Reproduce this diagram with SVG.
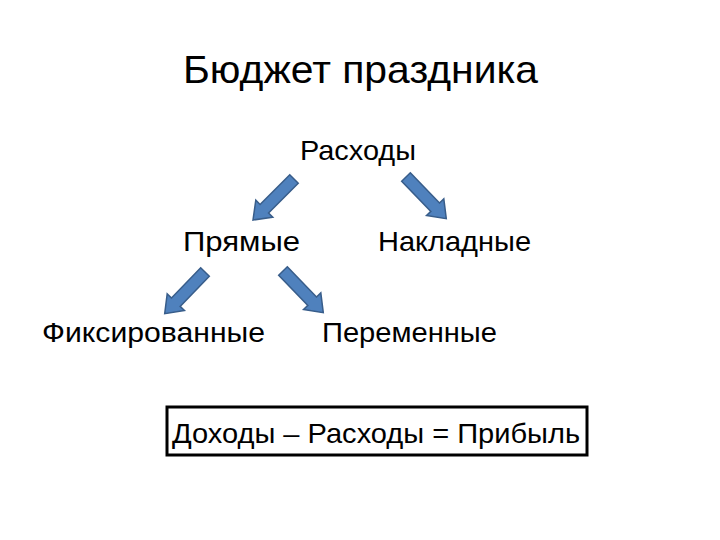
<svg xmlns="http://www.w3.org/2000/svg" xmlns:xlink="http://www.w3.org/1999/xlink" width="720" height="540" viewBox="0 0 720 540">
<style>
text{font-family:"Liberation Sans","DejaVu Sans",sans-serif;fill:#000}
.t{font-size:39px}
.n{font-size:28px}
.arr{fill:#4F81BD;stroke:#385D8A;stroke-width:1.5}
</style>
<defs>
<path id="ba" d="M0,-6 L42,-6 L42,-12 L58,0 L42,12 L42,6 L0,6 Z"/>
</defs>
<rect width="720" height="540" fill="#fff"/>
<g id="title"><text class="t" x="183" y="83" textLength="355" lengthAdjust="spacingAndGlyphs">Бюджет праздника</text></g>
<g id="rashody"><text class="n" x="300" y="160" textLength="116" lengthAdjust="spacingAndGlyphs">Расходы</text></g>
<g id="pryamye"><text class="n" x="183" y="251" textLength="117" lengthAdjust="spacingAndGlyphs">Прямые</text></g>
<g id="nakladnye"><text class="n" x="378" y="251" textLength="153" lengthAdjust="spacingAndGlyphs">Накладные</text></g>
<g id="fiks"><text class="n" x="42" y="342" textLength="223" lengthAdjust="spacingAndGlyphs">Фиксированные</text></g>
<g id="perem"><text class="n" x="322" y="342" textLength="175" lengthAdjust="spacingAndGlyphs">Переменные</text></g>
<g id="formula">
<rect x="167" y="407" width="420" height="48" fill="none" stroke="#000" stroke-width="3"/>
<text class="n" x="172" y="443" textLength="408" lengthAdjust="spacingAndGlyphs">Доходы – Расходы = Прибыль</text>
</g>
<g id="connectors">
<use xlink:href="#ba" class="arr" transform="translate(294,179) rotate(135)"/>
<use xlink:href="#ba" class="arr" transform="translate(406,177) rotate(46)"/>
<use xlink:href="#ba" class="arr" transform="translate(205,272) rotate(134)"/>
<use xlink:href="#ba" class="arr" transform="translate(283,271) rotate(46)"/>
</g>
</svg>
